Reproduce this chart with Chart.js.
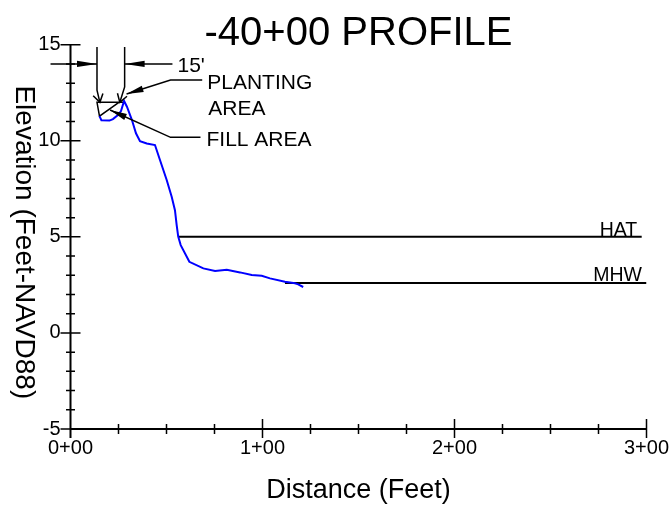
<!DOCTYPE html>
<html>
<head>
<meta charset="utf-8">
<title>-40+00 PROFILE</title>
<script src="https://cdn.jsdelivr.net/npm/chart.js@4.4.1/dist/chart.umd.min.js"></script>
<style>
    html, body { margin: 0; padding: 0; background: #ffffff; }
    #wrap { width: 670px; height: 507px; }
</style>
</head>
<body>
<div id="wrap"><canvas id="profileChart" width="670" height="507"></canvas></div>
<script>
// surveyed profile (distance in feet, elevation in feet NAVD88)
const profileDist = [15.1, 16.1, 20.3, 22.1, 24.7, 26.3, 27.9, 29.4, 32.0, 34.1, 36.2, 39.7, 44.0, 46.6, 50.1, 52.7,
    54.4, 55.3, 56.1, 57.4, 61.9, 69.2, 75.3, 81.4, 88.3, 94.4, 99.6, 103.9, 111.7, 116.9, 118.6, 121.2];
const profileElev = [11.28, 11.07, 11.05, 11.13, 11.34, 11.55, 12.07, 11.77, 11.08, 10.39, 9.98, 9.86, 9.78, 9.00, 7.96, 7.09,
    6.39, 5.61, 5.01, 4.57, 3.70, 3.36, 3.22, 3.29, 3.15, 3.01, 2.97, 2.84, 2.66, 2.58, 2.53, 2.39];

// tidal datums
const hatDist = [56.1, 297.5];
const hatElev = [5.0, 5.0];
const mhwDist = [111.7, 300];
const mhwElev = [2.6, 2.6];

// planting / fill area outline
const plantDist = [25.2, 15.1, 13.8, 28.2];
const plantElev = [12.0, 11.28, 12.0, 12.0];

// axis ticks
const xTicks = [0, 100, 200, 300];
const yTicks = [-5, 0, 5, 10, 15];

const FONT = '"Liberation Sans", Arial, sans-serif';
Chart.defaults.font.family = FONT;
Chart.defaults.color = '#000000';

function toPoints(xs, ys) {
    return xs.map((x, i) => ({x: x, y: ys[i]}));
}

function stationLabel(v) {
    const hundreds = Math.floor(v / 100);
    const rest = Math.round(v - hundreds * 100);
    return hundreds + '+' + String(rest).padStart(2, '0');
}

function arrowHead(ctx, tx, ty, fx, fy, len, half, filled) {
    const a = Math.atan2(ty - fy, tx - fx);
    const bx = tx - Math.cos(a) * len;
    const by = ty - Math.sin(a) * len;
    const nx = -Math.sin(a) * half;
    const ny = Math.cos(a) * half;
    ctx.beginPath();
    ctx.moveTo(bx + nx, by + ny);
    ctx.lineTo(tx, ty);
    ctx.lineTo(bx - nx, by - ny);
    if(filled) {
        ctx.closePath();
        ctx.fill();
    } else {
        ctx.stroke();
    }
}

const cadDecor = {
    id: 'cadDecor',
    afterDatasetsDraw(chart) {
        const {ctx, chartArea: area, scales: {x, y}} = chart;
        const px = v => x.getPixelForValue(v);
        const py = v => y.getPixelForValue(v);
        ctx.save();
        ctx.strokeStyle = '#000';
        ctx.fillStyle = '#000';
        ctx.lineCap = 'butt';

        // axes
        ctx.lineWidth = 2;
        ctx.beginPath();
        ctx.moveTo(area.left, area.top);
        ctx.lineTo(area.left, area.bottom + 9);
        ctx.moveTo(area.left, area.bottom);
        ctx.lineTo(area.right, area.bottom);
        ctx.stroke();

        // tick marks crossing the axes
        ctx.lineWidth = 1.5;
        ctx.beginPath();
        for(let v = -5; v <= 15; v++) {
            const len = v % 5 === 0 ? 10 : 4.5;
            ctx.moveTo(area.left - len, py(v));
            ctx.lineTo(area.left + len, py(v));
        }
        for(let v = 25; v <= 300; v += 25) {
            const major = v % 100 === 0;
            ctx.moveTo(px(v), area.bottom - (major ? 10 : 5));
            ctx.lineTo(px(v), area.bottom + (major ? 9 : 5));
        }
        ctx.stroke();

        // dimension: 15' planting width
        ctx.lineWidth = 1.5;
        ctx.beginPath();
        ctx.moveTo(px(-10.4), py(14));
        ctx.lineTo(px(13.8), py(14));
        ctx.moveTo(px(53.1), py(14));
        ctx.lineTo(px(28.2), py(14));
        ctx.moveTo(px(13.8), py(14.88));
        ctx.lineTo(px(13.8), py(12.64));
        ctx.lineTo(px(15.3), py(12.0));
        ctx.moveTo(px(28.2), py(14.88));
        ctx.lineTo(px(28.2), py(12.8));
        ctx.lineTo(px(25.7), py(12.0));
        ctx.stroke();
        arrowHead(ctx, px(13.8), py(14), px(-10.4), py(14), 20, 3.2, true);
        arrowHead(ctx, px(28.2), py(14), px(53.1), py(14), 20, 3.2, true);
        arrowHead(ctx, px(15.3), py(12.0), px(13.8), py(12.64), 8, 5, false);
        arrowHead(ctx, px(25.7), py(12.0), px(28.2), py(12.8), 8, 5, false);

        // leaders
        ctx.beginPath();
        ctx.moveTo(px(68.6), py(13.16));
        ctx.lineTo(px(52.1), py(13.16));
        ctx.lineTo(px(29.2), py(12.43));
        ctx.moveTo(px(67.7), py(10.18));
        ctx.lineTo(px(52.1), py(10.18));
        ctx.lineTo(px(20.6), py(11.6));
        ctx.stroke();
        arrowHead(ctx, px(29.2), py(12.43), px(52.1), py(13.16), 17, 3.2, true);
        arrowHead(ctx, px(20.6), py(11.6), px(52.1), py(10.18), 17, 3.2, true);

        // annotation text
        ctx.textBaseline = 'alphabetic';
        ctx.textAlign = 'left';
        ctx.font = '21px ' + FONT;
        ctx.fillText('15\'', px(53.1) + 5, py(14) + 8.5);
        ctx.fillText('PLANTING', px(68.6) + 5, py(13.16) + 8.5);
        ctx.fillText('AREA', px(68.6) + 6, py(13.16) + 34.5);
        ctx.fillText('FILL AREA', px(67.7) + 6, py(10.18) + 8.5);

        ctx.textAlign = 'right';
        ctx.font = '19.5px ' + FONT;
        ctx.fillText('HAT', px(hatDist[1]) - 4.5, py(hatElev[1]) - 1);
        ctx.fillText('MHW', px(mhwDist[1]) - 4.5, py(mhwElev[1]) - 1.5);

        // titles
        const cx = (area.left + area.right) / 2;
        ctx.textAlign = 'center';
        ctx.font = '40px ' + FONT;
        ctx.fillText('-40+00 PROFILE', cx, area.top + 0.5);
        ctx.font = '27px ' + FONT;
        ctx.fillText('Distance (Feet)', cx, 498);

        ctx.translate(24, (area.top + area.bottom) / 2 + 5.5);
        ctx.rotate(Math.PI / 2);
        ctx.textBaseline = 'middle';
        ctx.font = '28px ' + FONT;
        ctx.fillText('Elevation (Feet-NAVD88)', 0, 0);
        ctx.restore();
    }
};

new Chart(document.getElementById('profileChart'), {
    type: 'line',
    data: {
        datasets: [{
            label: 'Profile',
            data: toPoints(profileDist, profileElev),
            borderColor: '#0000ff',
            borderWidth: 2,
            pointRadius: 0,
            tension: 0
        }, {
            label: 'HAT',
            data: toPoints(hatDist, hatElev),
            borderColor: '#000000',
            borderWidth: 2,
            pointRadius: 0
        }, {
            label: 'MHW',
            data: toPoints(mhwDist, mhwElev),
            borderColor: '#000000',
            borderWidth: 2,
            pointRadius: 0
        }, {
            label: 'Planting area',
            data: toPoints(plantDist, plantElev),
            borderColor: '#000000',
            borderWidth: 1.5,
            pointRadius: 0
        }]
    },
    options: {
        responsive: false,
        animation: false,
        devicePixelRatio: 1,
        layout: {
            padding: {top: 44.7, right: 23.5, left: 0, bottom: 0}
        },
        plugins: {
            legend: {display: false},
            tooltip: {enabled: false}
        },
        scales: {
            x: {
                type: 'linear',
                min: 0,
                max: 300,
                afterBuildTicks: scale => { scale.ticks = xTicks.map(v => ({value: v})); },
                afterFit: scale => {
                    scale.height = 78;
                    scale.paddingLeft = 0;
                    scale.paddingRight = 0;
                },
                grid: {display: false, drawTicks: false},
                border: {display: false},
                ticks: {
                    callback: v => stationLabel(v),
                    font: {size: 20},
                    color: '#000',
                    padding: 7,
                    maxRotation: 0,
                    autoSkip: false
                }
            },
            y: {
                type: 'linear',
                min: -5,
                max: 15,
                afterBuildTicks: scale => { scale.ticks = yTicks.map(v => ({value: v})); },
                afterFit: scale => { scale.width = 70.5; },
                grid: {display: false, drawTicks: false},
                border: {display: false},
                ticks: {
                    font: {size: 20},
                    color: '#000',
                    padding: 10,
                    autoSkip: false
                }
            }
        }
    },
    plugins: [cadDecor]
});
</script>
</body>
</html>
